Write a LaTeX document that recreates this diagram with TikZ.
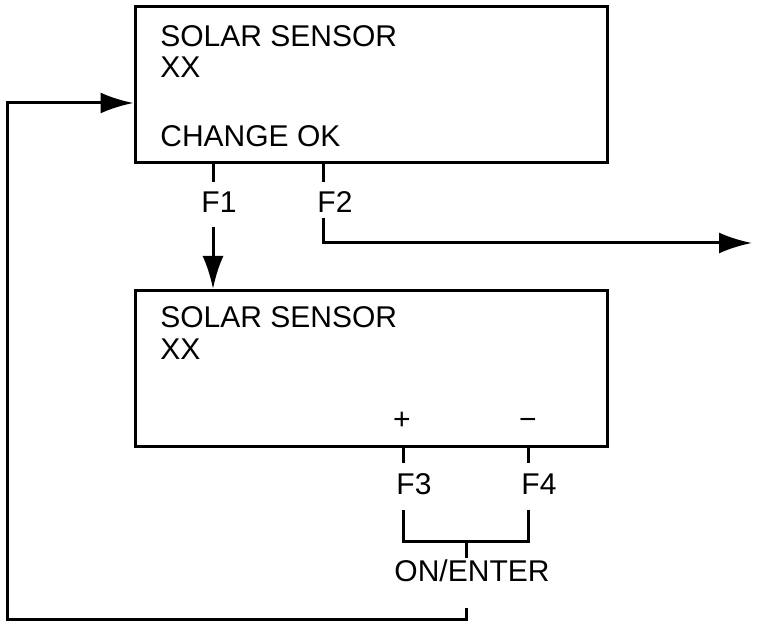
\documentclass[tikz,border=0pt]{standalone}
\usepackage{fontspec}
\setmainfont{Liberation Sans}
\usetikzlibrary{arrows.meta,positioning}

\begin{document}
\begin{tikzpicture}[
    x=0.5pt, y=-0.5pt,
    screen/.style={rectangle, draw=black, line width=1.5pt,
                   minimum width=236pt, minimum height=78pt, inner sep=0pt},
    readout/.style={anchor=base west, inner sep=0pt, font=\fontsize{15pt}{18pt}\selectfont},
    key/.style={inner sep=0pt, text height=10.8pt, text depth=0pt,
                font=\fontsize{15pt}{18pt}\selectfont},
    wire/.style={line width=1.5pt},
    flow/.style={wire, -{Latex[length=16.5pt,width=10.5pt]}}
]
    \useasboundingbox (0,0) rectangle (768,630);

    % Display screens
    \node[screen] (menu) at (371,85) {};
    \node[screen] (adjust) at (371.5,368.5) {};

    % Screen texts
    \node[readout] (menutitle) at (160,47) {SOLAR SENSOR};
    \node[readout] (menuvalue) at (160,78) {XX};
    \node[readout] (menuprompt) at (160,147) {CHANGE OK};
    \node[readout] (adjusttitle) at (160,328) {SOLAR SENSOR};
    \node[readout] (adjustvalue) at (160,360) {XX};
    \node[readout, anchor=base] (plus) at (402,430) {+};
    \node[readout, anchor=base] (minus) at (528,430) {\char"2212};

    % Key positions on the screen edges
    \coordinate (k1) at (213,163);
    \coordinate (k2) at (323,163);
    \coordinate (k3) at (403,447);
    \coordinate (k4) at (528,447);

    % Function keys
    \node[key] (f1) at (219,202) {F1};
    \node[key] (f2) at (335,202) {F2};
    \node[key] (f3) at (414,484) {F3};
    \node[key] (f4) at (539,484) {F4};
    \node[key] (enter) at (472,571) {ON/ENTER};

    \coordinate (exit) at (752,243);
    \coordinate (merge) at (466,542);
    \coordinate (loop) at (8,620);
    \coordinate (back) at (8,103);

    % Key ticks
    \draw[wire, shorten >=4.5pt] (k1) -- (k1 |- f1.north);
    \draw[wire, shorten >=4.5pt] (k2) -- (k2 |- f2.north);
    \draw[wire, shorten >=5pt] (k3) -- (k3 |- f3.north);
    \draw[wire, shorten >=5pt] (k4) -- (k4 |- f4.north);

    % Connectors
    \draw[flow, shorten <=7pt] (k1 |- f1.south) -- (k1 |- adjust.north);
    \draw[flow, shorten <=2.5pt] (k2 |- f2.south) |- (exit);
    \draw[wire, shorten <=7.5pt, shorten >=7.5pt]
        (k3 |- f3.south) -- (k3 |- merge) -- (k4 |- merge) -- (k4 |- f4.south);
    \draw[wire, shorten >=1pt] (merge) -- (merge |- enter.north);
    \draw[flow, shorten <=13pt] (merge |- enter.south) -- (merge |- loop)
        -- (loop) -- (back) -- (back -| menu.west);
\end{tikzpicture}
\end{document}
